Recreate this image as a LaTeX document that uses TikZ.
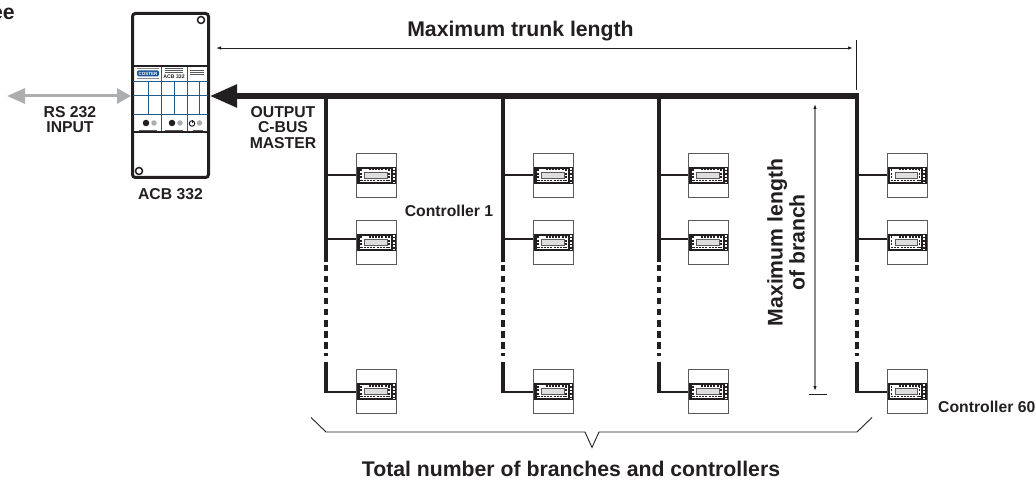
\documentclass[tikz,border=0pt]{standalone}
\usepackage{fontspec}
\setmainfont{Liberation Sans}
\usepackage{xcolor}
\usepackage{tikz}
\usetikzlibrary{arrows.meta,positioning}
\definecolor{ink}{RGB}{35,31,32}
\definecolor{greyarrow}{RGB}{172,174,176}
\definecolor{greydim}{RGB}{140,140,140}
\definecolor{greyedge}{RGB}{90,90,90}
\definecolor{lcd}{RGB}{222,222,222}
\definecolor{gridblue}{RGB}{30,90,140}
\definecolor{logoblue}{RGB}{25,85,150}
\tikzset{
  lbl/.style={font=\fontsize{15.8}{15.6}\selectfont\bfseries, text=ink, align=center, inner sep=0pt},
  biglbl/.style={font=\fontsize{21.3}{22}\selectfont\bfseries, text=ink, align=center, inner sep=0pt},
  devicebox/.style={draw=ink, line width=3bp, rounded corners=3bp, minimum width=76bp, minimum height=164bp, inner sep=0pt},
  ctrlbox/.style={draw=greyedge, line width=1bp, fill=white, minimum width=40bp, minimum height=44bp, inner sep=0pt,
    path picture={
      \begin{scope}[shift={(path picture bounding box.center)}]
        \fill[ink] (-21,-8.5) rectangle (21,8.5);
        \fill[white] (-17,-6.5) rectangle (14,6.5);
        \draw[ink, line width=1.5bp, dash pattern=on 2bp off 1.2bp] (-8,-5.5) -- (13,-5.5);
        \draw[ink, line width=1.5bp, dash pattern=on 2bp off 1.2bp] (-16,5.2) -- (13,5.2);
        \draw[ink, line width=1.5bp, dash pattern=on 2bp off 1.5bp] (-15.5,-6) -- (-15.5,5);
        \draw[ink, line width=1.5bp, dash pattern=on 2bp off 1.5bp] (12.5,-6) -- (12.5,5);
        \draw[greyedge, fill=lcd, line width=.6bp] (-12,-2.8) rectangle (10.5,2.8);
        \draw[white, line width=2bp, dash pattern=on 2bp off 1.5bp] (17.2,-7.5) -- (17.2,7.5);
      \end{scope}
    }},
  trunkline/.style={draw=ink, line width=5.5bp, -{Triangle[length=27bp,width=22bp]}},
  branchline/.style={draw=ink, line width=3.6bp},
  dotline/.style={draw=ink, line width=3.6bp, dash pattern=on 6.5bp off 4.5bp},
  stubline/.style={draw=ink, line width=2bp},
  rsarrow/.style={draw=greyarrow, line width=3bp, {Triangle[length=18bp,width=15bp]}-{Triangle[length=14bp,width=15bp]}},
  dimline/.style={draw=ink, line width=.9bp, {Latex[length=5bp,width=3.5bp]}-{Latex[length=5bp,width=3.5bp]}},
  dimvert/.style={draw=greydim, line width=1.4bp, {Latex[length=5bp,width=3.5bp,ink]}-{Latex[length=5bp,width=3.5bp,ink]}},
  tick/.style={draw=ink, line width=.9bp},
  grid/.style={draw=gridblue, line width=.7bp}
}
\begin{document}
\begin{tikzpicture}[x=1bp,y=-1bp]
\useasboundingbox (0,0) rectangle (1036,480);

\node[biglbl, anchor=base east] (title) at (15,20) {ee};

% device
\node[devicebox] (acb) at (170.5,95.5) {};
\draw[ink, line width=2bp] (acb.west |- 0,66) -- (acb.east |- 0,66);
\draw[ink, line width=2bp] (acb.west |- 0,132) -- (acb.east |- 0,132);
\foreach \gy in {81,95,114} \draw[grid] (133,\gy) -- (208,\gy);
\foreach \gx in {161,187} \draw[grid] (\gx,67) -- (\gx,131);
\foreach \gx in {148,174,199} \draw[grid] (\gx,81) -- (\gx,114);
\fill[greydim] (137,67.8) rectangle (159,69.3);
\fill[greydim] (137,77.8) rectangle (159,79.3);
\node[fill=logoblue, rounded corners=1.5bp, minimum width=22bp, minimum height=6bp, inner sep=0pt,
  text=white, font=\fontsize{4.5}{5}\selectfont\bfseries] (logo) at (148,73.5) {COSTER};
\node[font=\fontsize{5.2}{6}\selectfont\bfseries, text=ink, inner sep=0pt] (model) at (174,77) {ACB 332};
\foreach \ty in {68.5,70.3,72} \draw[greyedge, line width=.6bp] (165,\ty) -- (183,\ty);
\foreach \ty in {70,72,74} \draw[greyedge, line width=.6bp] (190,\ty) -- (204,\ty);
\foreach \ix in {146,172} \node[circle, fill=ink, minimum size=6.5bp, inner sep=0pt] (knob\ix) at (\ix,123) {};
\node[circle, draw=ink, line width=1bp, minimum size=5.5bp, inner sep=0pt] (pow) at (192,123.5) {};
\draw[ink, line width=1bp] (192,120) -- (192,123.5);
\foreach \ix in {154,180,199.5} \node[circle, fill=greyarrow, minimum size=5.5bp, inner sep=0pt] (led\ix) at (\ix,123) {};
\foreach \lx/\ln in {148/9,174/9,198/5} \draw[greyedge, line width=.8bp] (\lx-\ln,130) -- (\lx+\ln,130);
\node[circle, draw=ink, line width=1.5bp, minimum size=7bp, inner sep=0pt] (holea) at (201,20) {};
\node[circle, draw=ink, line width=1.5bp, minimum size=7bp, inner sep=0pt] (holeb) at (139,171) {};

% rs232 side
\coordinate (rsend) at (7,96);
\draw[rsarrow] (rsend) -- (acb.west |- rsend);
\node[lbl] (rslbl) at (70,119.5) {RS 232\\INPUT};
\node[lbl, below=9bp of acb] (acblbl) {ACB 332};
\node[lbl] (outlbl) at (283,127.5) {OUTPUT\\C-BUS\\MASTER};

% trunk
\coordinate (tend) at (858.8,96);
\draw[trunkline] (tend) -- (acb.east |- tend);

% branches and controllers
\foreach \n/\bx/\cx in {1/326/376.5,2/503/553.5,3/659/708.5,4/857/907}{
  \coordinate (t\n) at (\bx,96);
  \coordinate (s\n) at (\bx,262);
  \coordinate (e\n) at (\bx,362);
  \coordinate (ja\n) at (\bx,175);
  \coordinate (jb\n) at (\bx,239);
  \coordinate (jc\n) at (\bx,392);
  \node[ctrlbox] (ca\n) at (\cx,175.2) {};
  \node[ctrlbox] (cb\n) at (\cx,242.5) {};
  \node[ctrlbox] (cc\n) at (\cx,391.5) {};
  \draw[branchline] (t\n) -- (s\n);
  \draw[dotline] (s\n) ++(0,3) -- (\bx,356);
  \draw[branchline, line join=miter] (e\n) -- (jc\n);
  \draw[stubline] (ja\n) -- (ca\n.west |- ja\n);
  \draw[stubline] (jb\n) -- (cb\n.west |- jb\n);
  \draw[stubline, line width=2.6bp] (\bx-1.8,392) -- (cc\n.west |- jc\n);
}

\node[lbl] (c1lbl) at (449,210.5) {Controller 1};
\node[lbl, anchor=west] (c60lbl) at (938,407) {Controller 60};

% dimensions
\coordinate (dtl) at (216,48);
\coordinate (dtr) at (853,48);
\draw[dimline] (dtl) -- (dtr);
\coordinate (tka) at (856.5,40);
\coordinate (tkb) at (856.5,90);
\draw[tick] (tka) -- (tkb);
\node[biglbl, anchor=base] (trunklbl) at (520.5,37) {Maximum trunk length};

\coordinate (dvt) at (815,104);
\coordinate (dvb) at (815,391);
\draw[dimvert] (dvt) -- (dvb);
\coordinate (bara) at (809,394);
\coordinate (barb) at (827,394);
\draw[tick] (bara) -- (barb);
\node[biglbl, rotate=90] (branchlbl) at (786,242.5) {Maximum length\\of branch};

% bracket
\coordinate (bra) at (311,417.5);
\coordinate (brb) at (326,432);
\coordinate (brc) at (585,432);
\coordinate (brd) at (592,447.5);
\coordinate (bre) at (599,432);
\coordinate (brf) at (857,432);
\coordinate (brg) at (872,417.5);
\draw[tick] (bra) -- (brb) -- (brc) -- (brd) -- (bre) -- (brf) -- (brg);
\node[biglbl, anchor=base] (totallbl) at (571,476.7) {Total number of branches and controllers};
\end{tikzpicture}
\end{document}
